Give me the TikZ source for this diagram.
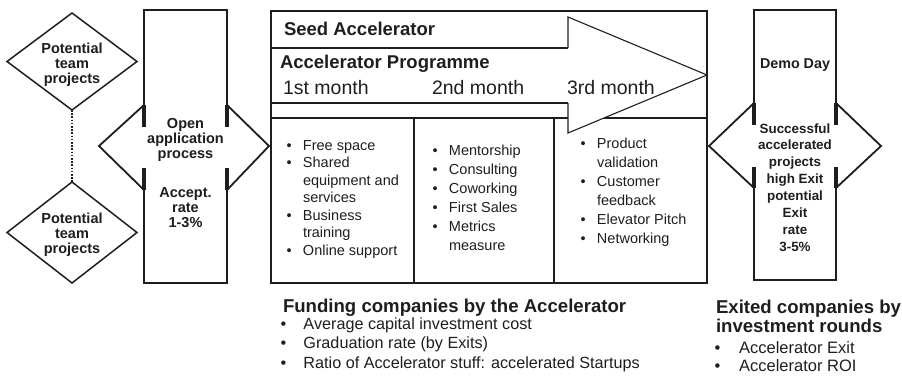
\documentclass[tikz,border=0pt]{standalone}
\usepackage{fontspec}
\setmainfont{Liberation Sans}
\usetikzlibrary{shapes.geometric}
\definecolor{ink}{HTML}{1E1E1E}
\newcommand{\fsz}[2]{\fontsize{#1}{#2}\selectfont}
\newcommand{\mybul}[1][16.5pt]{\makebox[#1][l]{\textbullet}}
\newcommand{\myind}[1][16.5pt]{\hspace*{#1}}
\renewcommand{\arraystretch}{1}
\begin{document}
\begin{tikzpicture}[x=1pt,y=-1pt,
  boxline/.style={line width=2.2pt, draw=ink},
  colline/.style={line width=1.8pt, draw=ink},
  innerline/.style={line width=1.1pt, draw=ink},
  thickmark/.style={line width=3.4pt, draw=ink},
  pdiamond/.style={shape=diamond, draw=ink, line width=1.5pt, minimum width=130pt, minimum height=97pt, inner sep=0pt, outer sep=0pt},
  lbl/.style={inner sep=0pt, outer sep=0pt, text=ink, anchor=base},
  lblw/.style={lbl, anchor=base west}]
\useasboundingbox (0,0) rectangle (902,375);

% ---------- left diamonds ----------
\node[pdiamond] (d1) at (72,61.5) {};
\node[pdiamond, minimum height=101pt] (d2) at (72,232.5) {};
\draw[ink, line width=1.6pt, dash pattern=on 1.6pt off 1.6pt] (d1.south) -- (d2.north);
\node[lbl, font=\bfseries\fsz{14.5}{15}] (t1) at (72,53) {\begin{tabular}[t]{@{}c@{}}Potential\\team\\projects\end{tabular}};
\node[lbl, font=\bfseries\fsz{14.5}{15}] (t2) at (72,223) {\begin{tabular}[t]{@{}c@{}}Potential\\team\\projects\end{tabular}};

% ---------- left column ----------
\draw[colline] (144,127) -- (144,10) -- (227,10) -- (227,127);
\draw[colline] (144,168) -- (144,283) -- (227,283) -- (227,168);
\draw[colline] (144,105) -- (99,146) -- (144,190);
\draw[colline] (227,105) -- (269,146) -- (227,190);
\draw[thickmark] (144,105) -- (144,127) (144,168) -- (144,190)
                 (227,105) -- (227,127) (227,168) -- (227,190);
\node[lbl, font=\bfseries\fsz{14.5}{15}] (open) at (185.5,128) {\begin{tabular}[t]{@{}c@{}}Open\\application\\process\end{tabular}};
\node[lbl, font=\bfseries\fsz{14.5}{15}] (acc) at (185.5,197) {\begin{tabular}[t]{@{}c@{}}Accept.\\rate\\1-3\%\end{tabular}};

% ---------- main box ----------
\draw[innerline] (271,48) -- (568,48);
\draw[innerline] (271,103) -- (568,103);
\draw[innerline] (271,118) -- (707,118);
\draw[innerline] (414,118) -- (414,283);
\draw[innerline] (554,118) -- (554,283);
\fill[white] (568,17) -- (707,75) -- (568,133) -- cycle;
\draw[innerline] (568,48) -- (568,17) -- (707,75) -- (568,133) -- (568,103);
\draw[boxline] (271,11) rectangle (707,283);

\node[lblw, font=\bfseries\fsz{18.5}{20}] (seed) at (284,35) {Seed Accelerator};
\node[lblw, font=\bfseries\fsz{18.5}{20}] (prog) at (280,68) {Accelerator Programme};
\node[lblw, font=\fsz{19.5}{20}] (m1) at (283,94) {1st month};
\node[lblw, font=\fsz{19.5}{20}] (m2) at (432,94) {2nd month};
\node[lblw, font=\fsz{19.5}{20}] (m3) at (567,94) {3rd month};

\node[lblw, font=\fsz{14.5}{17.5}] (c1) at (286.5,150) {\begin{tabular}[t]{@{}l@{}}
\mybul Free space\\ \mybul Shared\\ \myind equipment and\\ \myind services\\ \mybul Business\\ \myind training\\ \mybul Online support\end{tabular}};
\node[lblw, font=\fsz{14.5}{19}] (c2) at (432.5,155) {\begin{tabular}[t]{@{}l@{}}
\mybul Mentorship\\ \mybul Consulting\\ \mybul Coworking\\ \mybul First Sales\\ \mybul Metrics\\ \myind measure\end{tabular}};
\node[lblw, font=\fsz{14.5}{19}] (c3) at (580.5,148) {\begin{tabular}[t]{@{}l@{}}
\mybul Product\\ \myind validation\\ \mybul Customer\\ \myind feedback\\ \mybul Elevator Pitch\\ \mybul Networking\end{tabular}};

% ---------- right column ----------
\draw[colline] (754,125) -- (754,10) -- (836,10) -- (836,125);
\draw[colline] (754,167) -- (754,280) -- (836,280) -- (836,167);
\draw[colline] (754,103) -- (709,146) -- (754,188);
\draw[colline] (836,103) -- (881,146) -- (836,188);
\draw[thickmark] (754,103) -- (754,125) (754,167) -- (754,188)
                 (836,103) -- (836,125) (836,167) -- (836,188);
\node[lbl, font=\bfseries\fsz{14.3}{15}] (demo) at (795,68) {Demo Day};
\node[lbl, font=\bfseries\fsz{13.4}{16.9}] (succ) at (795,133) {\begin{tabular}[t]{@{}c@{}}Successful\\accelerated\\projects\\high Exit\\potential\\Exit\\rate\\3-5\%\end{tabular}};

% ---------- bottom texts ----------
\node[lblw, font=\bfseries\fsz{18.6}{20}] (fund) at (283,312) {Funding companies by the Accelerator};
\node[lblw, font=\fsz{16.2}{19.5}] (fl) at (280.5,329) {\begin{tabular}[t]{@{}l@{}}
\mybul[18.5pt] Average capital investment cost\\ \mybul[18.5pt] Graduation rate (by Exits)\\ \mybul[18.5pt] Ratio of Accelerator stuff: accelerated Startups\end{tabular}};
\node[lblw, font=\bfseries\fsz{18.6}{19.5}] (exh) at (716,313) {\begin{tabular}[t]{@{}l@{}}Exited companies by\\investment rounds\end{tabular}};
\node[lblw, font=\fsz{16.5}{18}] (el) at (714.5,353) {\begin{tabular}[t]{@{}l@{}}
\mybul[20pt] Accelerator Exit\\ \mybul[20pt] Accelerator ROI\end{tabular}};
\end{tikzpicture}
\end{document}
